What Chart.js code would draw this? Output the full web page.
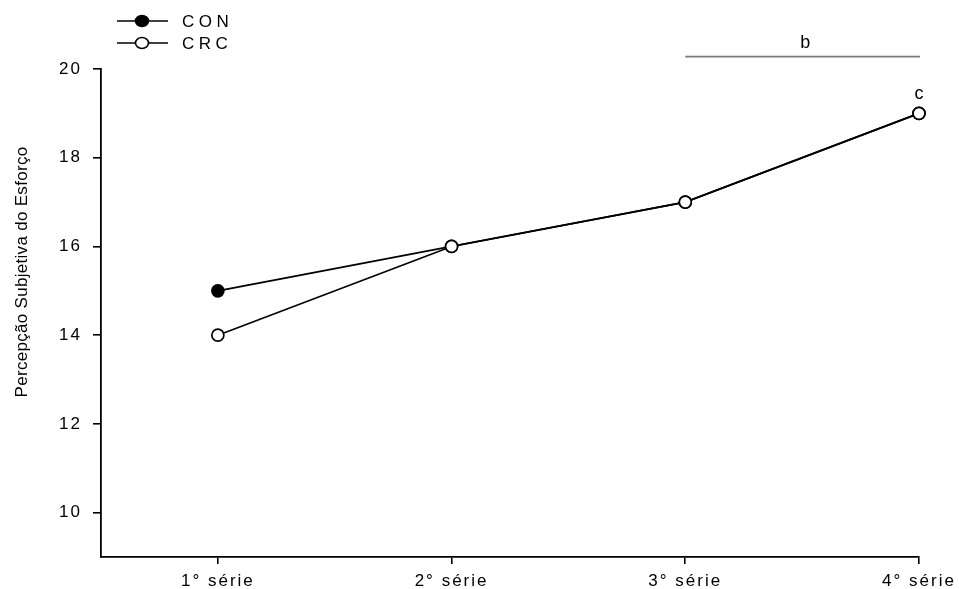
<!DOCTYPE html>
<html>
<head>
<meta charset="utf-8">
<script src="https://cdn.jsdelivr.net/npm/chart.js@4.4.0/dist/chart.umd.min.js"></script>
<style>
  html, body { margin: 0; padding: 0; background: #fff; }
</style>
</head>
<body>
<canvas id="c" width="959" height="589"></canvas>
<script>
// Series positions along the x axis and their labels
const seriesPos = [1, 2, 3, 4];
const seriesLabels = ['1° série', '2° série', '3° série', '4° série'];

// Rating of perceived exertion per condition
const conValues = [15, 16, 17, 19];
const crcValues = [14, 16, 17, 19];

// Y axis ticks
const yTicks = [10, 12, 14, 16, 18, 20];
const yTitle = 'Percepção Subjetiva do Esforço';

// Significance marks: bar spanning series 3–4 labelled "b", and "c" over series 4
const barFrom = 3, barTo = 4, barLevel = 20.28, barText = 'b', barTextLevel = 20.58;
const markText = 'c', markPos = 4, markValue = 19;

const FONT = '"Liberation Sans", Arial, Helvetica, sans-serif';
const TICK_SPACING = '2px';

const toPoints = vals => vals.map((v, i) => ({ x: seriesPos[i], y: v }));

const spacingPlugin = {
  id: 'spacing',
  beforeLayout(chart) { chart.ctx.letterSpacing = TICK_SPACING; },
  beforeDraw(chart) { chart.ctx.letterSpacing = TICK_SPACING; },
  afterDraw(chart) {
    const ctx = chart.ctx;
    const xs = chart.scales.x, ys = chart.scales.y;
    ctx.save();

    // significance bar
    ctx.strokeStyle = '#7a7a7a';
    ctx.lineWidth = 1.6;
    ctx.beginPath();
    ctx.moveTo(xs.getPixelForValue(barFrom), ys.getPixelForValue(barLevel));
    ctx.lineTo(xs.getPixelForValue(barTo) + 1, ys.getPixelForValue(barLevel));
    ctx.stroke();

    ctx.fillStyle = '#000';
    ctx.letterSpacing = '0px';
    ctx.font = '18px ' + FONT;
    ctx.textAlign = 'center';
    ctx.textBaseline = 'middle';
    ctx.fillText(barText, (xs.getPixelForValue(barFrom) + xs.getPixelForValue(barTo)) / 2 + 3, ys.getPixelForValue(barTextLevel));
    ctx.fillText(markText, xs.getPixelForValue(markPos), ys.getPixelForValue(markValue) - 19);

    // y axis title
    ctx.save();
    ctx.translate(22, 272);
    ctx.rotate(-Math.PI / 2);
    ctx.letterSpacing = '0.3px';
    ctx.font = '17px ' + FONT;
    ctx.fillText(yTitle, 0, 0);
    ctx.restore();

    // legend
    const items = [
      { label: 'CON', fill: '#000', y: 21 },
      { label: 'CRC', fill: '#fff', y: 43 }
    ];
    ctx.letterSpacing = '4.5px';
    ctx.font = '17px ' + FONT;
    ctx.textAlign = 'left';
    items.forEach(it => {
      ctx.strokeStyle = '#000';
      ctx.lineWidth = 1.6;
      ctx.beginPath();
      ctx.moveTo(117, it.y);
      ctx.lineTo(168, it.y);
      ctx.stroke();
      ctx.beginPath();
      ctx.ellipse(142, it.y, 6.5, 5.5, 0, 0, Math.PI * 2);
      ctx.fillStyle = it.fill;
      ctx.fill();
      ctx.stroke();
      ctx.fillStyle = '#000';
      ctx.fillText(it.label, 182, it.y + 1);
    });

    ctx.restore();
  }
};

new Chart(document.getElementById('c'), {
  type: 'line',
  data: {
    datasets: [
      {
        label: 'CON',
        data: toPoints(conValues),
        borderColor: '#000',
        borderWidth: 1.7,
        pointRadius: 6,
        pointBackgroundColor: '#000',
        pointBorderColor: '#000',
        pointBorderWidth: 1.7,
        clip: false,
        order: 1
      },
      {
        label: 'CRC',
        data: toPoints(crcValues),
        borderColor: '#000',
        borderWidth: 1.7,
        pointRadius: 6,
        pointBackgroundColor: '#fff',
        pointBorderColor: '#000',
        pointBorderWidth: 1.7,
        clip: false,
        order: 0
      }
    ]
  },
  options: {
    responsive: false,
    animation: false,
    devicePixelRatio: 1,
    layout: { padding: { top: 69, right: 40, left: 0, bottom: 0 } },
    plugins: { legend: { display: false }, tooltip: { enabled: false } },
    scales: {
      x: {
        type: 'linear',
        min: 0.5,
        max: 4,
        afterBuildTicks: s => { s.ticks = seriesPos.map(v => ({ value: v })); },
        afterFit: s => { s.height = 32; s.paddingLeft = 0; s.paddingRight = 0; },
        grid: { drawOnChartArea: false, drawTicks: true, tickLength: 7, color: '#000', lineWidth: 1.6 },
        border: { display: true, color: '#000', width: 1.8 },
        ticks: {
          callback: v => seriesLabels[seriesPos.indexOf(v)] ?? '',
          font: { family: FONT, size: 17 },
          color: '#000',
          padding: 7,
          maxRotation: 0,
          autoSkip: false
        }
      },
      y: {
        min: 9,
        max: 20,
        afterBuildTicks: s => { s.ticks = yTicks.map(v => ({ value: v })); },
        afterFit: s => { s.width = 101; s.paddingTop = 0; s.paddingBottom = 0; },
        grid: { drawOnChartArea: false, drawTicks: true, tickLength: 8, color: '#000', lineWidth: 1.6 },
        border: { display: true, color: '#000', width: 1.8 },
        ticks: {
          font: { family: FONT, size: 17 },
          color: '#000',
          padding: 11
        }
      }
    }
  },
  plugins: [spacingPlugin]
});
</script>
</body>
</html>
